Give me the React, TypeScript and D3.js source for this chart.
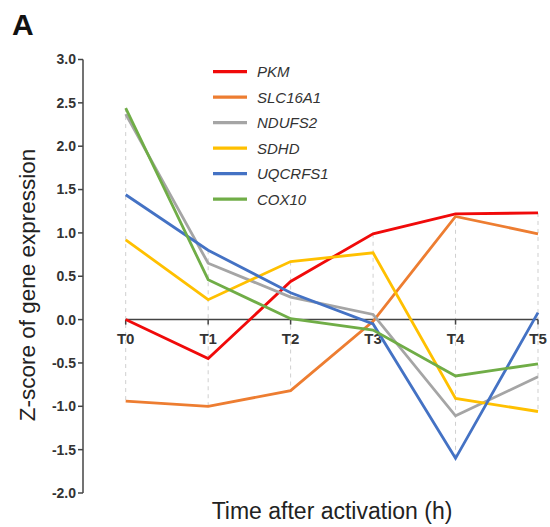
import React from "react";
import * as d3 from "d3";

const timePoints = ["T0", "T1", "T2", "T3", "T4", "T5"];
const geneNames = ["PKM", "SLC16A1", "NDUFS2", "SDHD", "UQCRFS1", "COX10"];
const geneColors = ["#f00a0a", "#ed7d31", "#a5a5a5", "#ffc000", "#4472c4", "#70ad47"];

const pkm = [0, -0.45, 0.44, 0.99, 1.22, 1.23];
const slc16a1 = [-0.94, -1.0, -0.82, -0.02, 1.19, 0.99];
const ndufs2 = [2.37, 0.65, 0.26, 0.06, -1.11, -0.66];
const sdhd = [0.92, 0.23, 0.67, 0.77, -0.91, -1.06];
const uqcrfs1 = [1.44, 0.8, 0.31, -0.05, -1.6, 0.08];
const cox10 = [2.44, 0.46, 0.01, -0.12, -0.65, -0.51];

const seriesValues = [pkm, slc16a1, ndufs2, sdhd, uqcrfs1, cox10];
const yTicks = [-2.0, -1.5, -1.0, -0.5, 0.0, 0.5, 1.0, 1.5, 2.0, 2.5, 3.0];

const W = 550;
const H = 527;
const FONT = "'Liberation Sans', Arial, sans-serif";

export default function App() {
  const x = d3.scalePoint<string>().domain(timePoints).range([125.7, 538]);
  const y = d3.scaleLinear().domain([-2, 3]).range([493, 59.5]);
  const line = d3
    .line<number>()
    .x((_, i) => x(timePoints[i]) as number)
    .y((d) => y(d));

  const axisX = 83;
  const zeroY = y(0);

  return (
    <svg
      width={W}
      height={H}
      style={{ position: "absolute", left: 0, top: 0, background: "#fff" }}
      fontFamily={FONT}
    >
      <rect width={W} height={H} fill="#fff" />
      <text x={12} y={35} fontSize={30} fontWeight="bold" fill="#111">
        A
      </text>

      {/* drop lines */}
      {timePoints.map((t, i) => {
        const vals = seriesValues.map((s) => s[i]);
        const mx = d3.max(vals) as number;
        const mn = d3.min(vals) as number;
        return (
          <line
            key={"drop" + t}
            x1={x(t)}
            x2={x(t)}
            y1={y(mx)}
            y2={y(mn)}
            stroke="#cfcfcf"
            strokeWidth={1}
            strokeDasharray="4,4"
          />
        );
      })}

      {/* y axis */}
      <line x1={axisX} x2={axisX} y1={y(3)} y2={y(-2)} stroke="#444" strokeWidth={1.5} />
      {yTicks.map((v) => (
        <g key={"yt" + v} transform={`translate(0,${y(v)})`}>
          <line x1={axisX - 5} x2={axisX} stroke="#444" strokeWidth={1.5} />
          <text
            x={axisX - 7}
            dy="0.35em"
            textAnchor="end"
            fontSize={14}
            fontWeight="bold"
            fill="#333"
          >
            {v.toFixed(1)}
          </text>
        </g>
      ))}

      {/* x axis at zero */}
      <line
        x1={x("T0")}
        x2={x("T5")}
        y1={zeroY}
        y2={zeroY}
        stroke="#444"
        strokeWidth={1.5}
      />
      {timePoints.map((t) => (
        <g key={"xt" + t} transform={`translate(${x(t)},${zeroY})`}>
          <line y1={0} y2={5} stroke="#444" strokeWidth={1.5} />
          <text
            y={24}
            textAnchor="middle"
            fontSize={15}
            fontWeight="bold"
            fill="#333"
          >
            {t}
          </text>
        </g>
      ))}

      {/* series */}
      {seriesValues.map((s, k) => (
        <path
          key={"s" + k}
          d={line(s) as string}
          fill="none"
          stroke={geneColors[k]}
          strokeWidth={2.8}
          strokeLinejoin="miter"
        />
      ))}

      {/* legend */}
      {geneNames.map((g, k) => {
        const ly = 71.7 + k * 25.5;
        return (
          <g key={"lg" + g}>
            <line x1={213} x2={247} y1={ly} y2={ly} stroke={geneColors[k]} strokeWidth={3.2} />
            <text x={257} y={ly} dy="0.36em" fontSize={15} fontStyle="italic" fill="#333">
              {g}
            </text>
          </g>
        );
      })}

      {/* axis titles */}
      <text
        transform={`translate(35,285) rotate(-90)`}
        textAnchor="middle"
        fontSize={22.5}
        fill="#222"
      >
        Z-score of gene expression
      </text>
      <text x={332} y={519} textAnchor="middle" fontSize={23} fill="#222">
        Time after activation (h)
      </text>
    </svg>
  );
}
